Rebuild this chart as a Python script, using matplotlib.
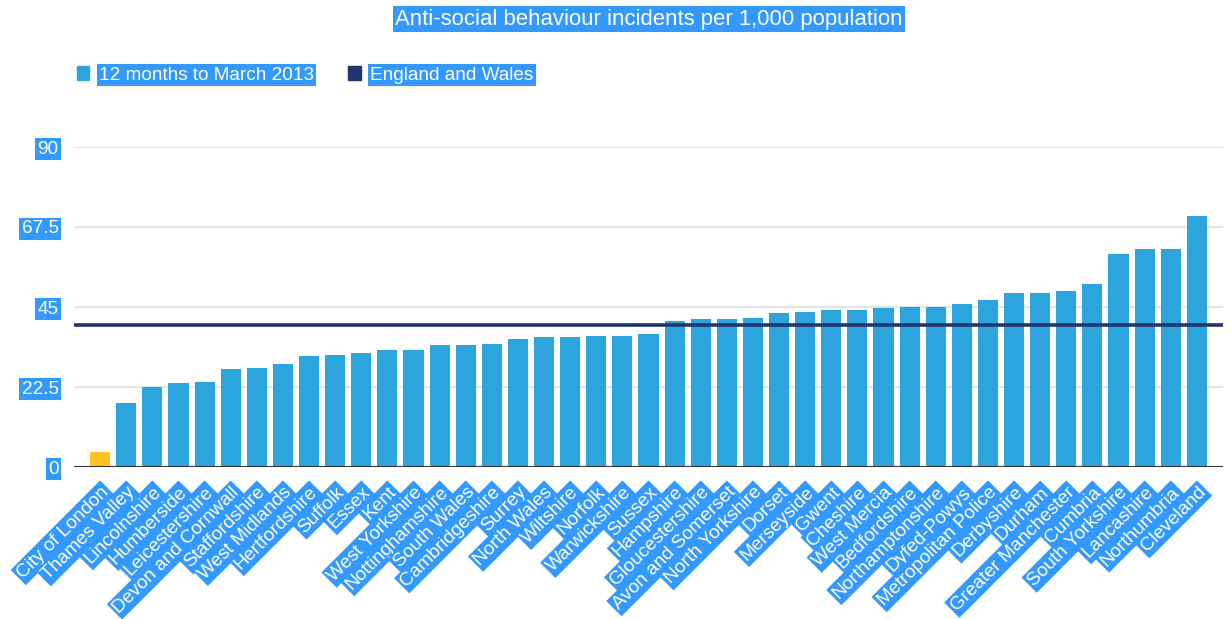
import matplotlib
matplotlib.use("Agg")
import matplotlib.pyplot as plt
from matplotlib.patches import Patch

plt.rcParams['font.family'] = ['Liberation Sans', 'DejaVu Sans']

# police force areas, sorted by rate
forces = ['City of London', 'Thames Valley', 'Lincolnshire', 'Humberside', 'Leicestershire',
          'Devon and Cornwall', 'Staffordshire', 'West Midlands', 'Hertfordshire', 'Suffolk',
          'Essex', 'Kent', 'West Yorkshire', 'Nottinghamshire', 'South Wales', 'Cambridgeshire',
          'Surrey', 'North Wales', 'Wiltshire', 'Norfolk', 'Warwickshire', 'Sussex', 'Hampshire',
          'Gloucestershire', 'Avon and Somerset', 'North Yorkshire', 'Dorset', 'Merseyside',
          'Gwent', 'Cheshire', 'West Mercia', 'Bedfordshire', 'Northamptonshire', 'Dyfed-Powys',
          'Metropolitan Police', 'Derbyshire', 'Durham', 'Greater Manchester', 'Cumbria',
          'South Yorkshire', 'Lancashire', 'Northumbria', 'Cleveland']
rates = [4.1, 18.1, 22.6, 23.5, 23.9, 27.5, 27.9, 28.9, 31.1, 31.6,
         32.0, 32.9, 32.9, 34.2, 34.2, 34.7, 36.0, 36.5, 36.5, 36.9,
         36.9, 37.3, 41.0, 41.5, 41.5, 41.9, 43.2, 43.7, 44.2, 44.2,
         44.6, 45.0, 45.0, 45.9, 46.9, 49.0, 49.0, 49.6, 51.4, 59.9,
         61.2, 61.2, 70.7]
england_wales = 40.0
highlight = 'City of London'

yticks = [0, 22.5, 45, 67.5, 90]
ytick_labels = ['0', '22.5', '45', '67.5', '90']

bar_color = '#2CA5DF'
hi_color = '#FFC125'
navy = '#23346E'
sel = '#3399FF'   # selected-text blue behind every label
fs = 13.7

fig = plt.figure(figsize=(12.31, 6.19), dpi=100)
ax = fig.add_axes([74 / 1231, 1 - 467 / 619, (1223 - 74) / 1231, (467 - 147) / 619])

x = list(range(len(forces)))
colors = [hi_color if f == highlight else bar_color for f in forces]
ax.bar(x, rates, width=0.77, color=colors, zorder=2)
ax.axhline(england_wales, color=navy, lw=2.6, zorder=3)

ax.set_xlim(-1, len(forces))
ax.set_ylim(0, 90)
ax.set_yticks(yticks)
ax.set_yticklabels(ytick_labels)
ax.grid(axis='y', color='#e2e2e2', lw=1.3, zorder=0)
ax.axhline(0, color='#333333', lw=1.5, zorder=4)
for s in ax.spines.values():
    s.set_visible(False)

ax.set_xticks(x)
ax.set_xticklabels(forces, rotation=45, ha='right', va='top', rotation_mode='anchor')
ax.tick_params(axis='both', length=0, labelsize=fs, labelcolor='white')
ax.tick_params(axis='x', pad=12)
ax.tick_params(axis='y', pad=11)
box = dict(boxstyle='square,pad=0.12', fc=sel, ec='none')
for t in ax.get_xticklabels() + ax.get_yticklabels():
    t.set_bbox(box)

fig.text(649 / 1231, 1 - 19 / 619, 'Anti-social behaviour incidents per 1,000 population',
         ha='center', va='center', fontsize=15.9, color='white', bbox=box)

handles = [Patch(color=bar_color, label='12 months to March 2013'),
           Patch(color=navy, label='England and Wales')]
leg = fig.legend(handles=handles, loc='center left', bbox_to_anchor=(77 / 1231, 1 - 75 / 619),
                 ncol=2, frameon=False, fontsize=fs, handlelength=0.65, handleheight=0.7,
                 handletextpad=0.5, columnspacing=1.8, borderpad=0, borderaxespad=0)
for t in leg.get_texts():
    t.set_color('white')
    t.set_bbox(box)

fig.savefig('out.png', dpi=100, facecolor='white')
